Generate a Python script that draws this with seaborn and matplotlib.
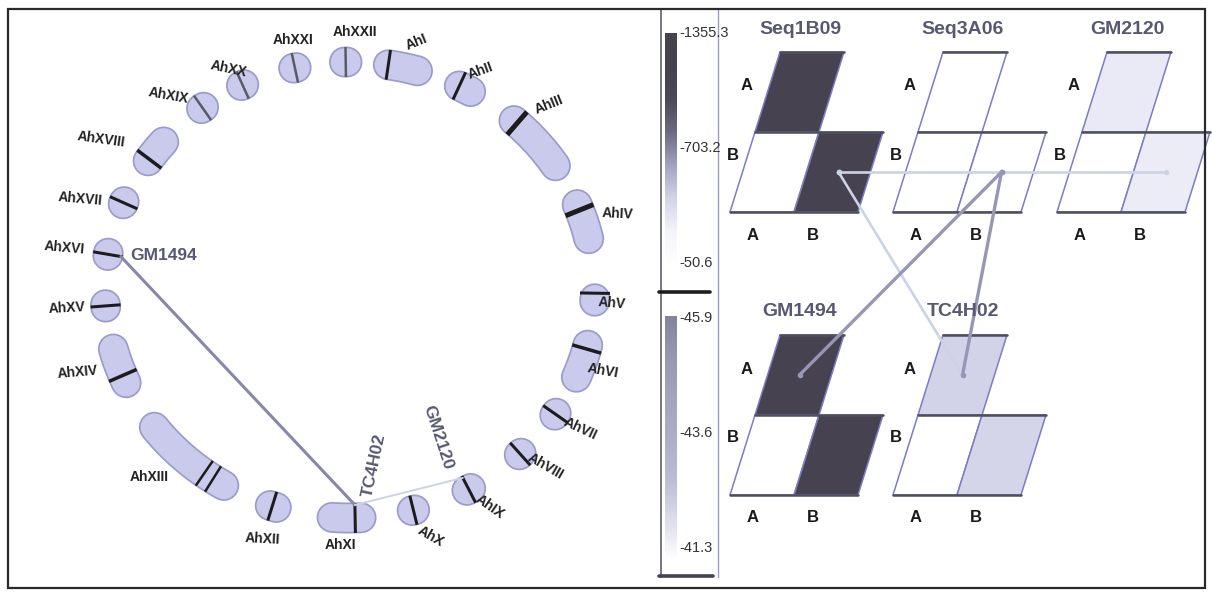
import numpy as np
import matplotlib
matplotlib.use("Agg")
import matplotlib.pyplot as plt
from matplotlib.patches import Polygon, Rectangle
from matplotlib.colors import Normalize
import seaborn as sns

sns.set_theme(style="white")
plt.rcParams["font.family"] = ["Liberation Sans", "DejaVu Sans"]

# ---- data: chromosomes on the circle (angles in degrees, clockwise from top)
chrom_names = ["AhI", "AhII", "AhIII", "AhIV", "AhV", "AhVI", "AhVII", "AhVIII",
               "AhIX", "AhX", "AhXI", "AhXII", "AhXIII", "AhXIV", "AhXV", "AhXVI",
               "AhXVII", "AhXVIII", "AhXIX", "AhXX", "AhXXI", "AhXXII"]
chrom_start = [9, 26.5, 42, 68, 92.2, 104, 122.7, 135.7, 150.5, 164.7, 177.4, 197.5,
               211, 246, 265.7, 278.7, 292.2, 304.5, 322.7, 333.7, 346.7, 358.7]
chrom_end = [16, 29.5, 57, 77, 92.8, 112.5, 123.3, 136.3, 151.5, 165.3, 184.2, 199,
             233, 255, 266.3, 279.3, 292.8, 310.5, 323.3, 334.3, 347.3, 359.3]

# marker bands: chromosome index, angle
band_chrom = [0, 1, 2, 3, 4, 5, 6, 7, 8, 9, 10, 11, 12, 12, 13, 14, 15, 16, 17, 18, 19, 20, 21]
band_angle = [9, 26.5, 43, 69.5, 90.8, 105, 123, 136, 151, 165, 178.8, 198.5, 214, 216.5,
              248, 266, 279, 292.5, 305, 323, 334, 347, 359]

# named markers and the links between them
marker_names = ["GM1494", "TC4H02", "GM2120"]
marker_angle = [279, 178.8, 151]
links_left = [(0, 1), (1, 2)]

# ---- data: 2x2 lower-triangle matrices (values on the colour scale)
hm_names = ["Seq1B09", "Seq3A06", "GM2120", "GM1494", "TC4H02"]
hm_aa = [-1330.0, -50.6, -300.0, -1355.3, -430.0]
hm_ba = [-50.6, -50.6, -50.6, -50.6, -50.6]
hm_bb = [-1330.0, -50.6, -290.0, -1355.3, -420.0]
hm_rows = ["A", "B"]
hm_cols = ["A", "B"]
# links between matrices: (from, cell) -> (to, cell)
links_right = [(0, "BB", 2, "BB", "light"), (0, "BB", 4, "AA", "light"),
               (1, "BB", 3, "AA", "strong"), (1, "BB", 4, "AA", "strong")]

# colour scales
scale1_ticks = [-1355.3, -703.2, -50.6]
scale2_ticks = [-45.9, -43.6, -41.3]

# ---- layout
PT = 0.72  # points per pixel at dpi 100
CX, CY, RX, RY = 350, 290, 245, 228
CW = 29
label_angle = [14, 29, 45, 73, 93, 109, 123, 134, 149, 163, 182, 198, 225, 252,
               266, 279, 290, 303, 319, 333, 348, 1]
label_r = [1.12, 1.10, 1.15, 1.14, 1.07, 1.09, 1.12, 1.11, 1.11, 1.13, 1.12, 1.15,
           1.16, 1.17, 1.16, 1.18, 1.17, 1.21, 1.13, 1.09, 1.12, 1.13]
label_rot = [22, 20, 22, -3, -5, -10, -25, -30, -35, -30, 0, -3, 0, 5, 3, -5, -5,
             -8, -10, -12, 0, 0]
band_lw = [3, 3, 5, 5, 3, 3.5, 3, 3, 3, 3, 3, 3, 2.5, 2.5, 3.5, 3, 3, 3, 3.5, 2.5, 2.5, 2.5, 2.5]
band_col = ["#1c1c1c"] * 19 + ["#5a5a66"] * 4
hm_x0 = [730, 893, 1057, 730, 893]
hm_yb = [212, 212, 212, 495, 495]
W, H, S = 64, 80, 25

cmap1 = sns.blend_palette(["#46424f", "#46424f", "#4c4858", "#6c6a84", "#a4a2c2",
                           "#d4d4ea", "#f4f4fb", "#ffffff"], as_cmap=True)
cmap2 = sns.blend_palette(["#84849a", "#9898b2", "#a4a4c0", "#aeaeca", "#bcbcd4",
                           "#dcdcec", "#ffffff"], as_cmap=True)
norm1 = Normalize(vmin=scale1_ticks[0], vmax=scale1_ticks[-1])


def ell(theta, k=1.0):
    t = np.radians(theta)
    return CX + k * RX * np.sin(t), CY - k * RY * np.cos(t)


def normal(theta):
    t = np.radians(theta)
    n = np.array([RY * np.sin(t), -RX * np.cos(t)])
    return n / np.linalg.norm(n)


fig = plt.figure(figsize=(12.12, 5.94), dpi=100)
ax = fig.add_axes([0, 0, 1, 1])

# chromosomes
for i, name in enumerate(chrom_names):
    th = np.linspace(chrom_start[i], chrom_end[i], 40)
    xs, ys = ell(th)
    ax.plot(xs, ys, color="#9c9ccc", lw=(CW + 2) * PT, solid_capstyle="round", zorder=2)
    ax.plot(xs, ys, color="#cacaec", lw=(CW - 1.5) * PT, solid_capstyle="round", zorder=3)
    lx, ly = ell(label_angle[i], label_r[i])
    ax.text(lx, ly, name, ha="center", va="center", fontsize=10, fontweight="bold",
            color="#222222", rotation=label_rot[i], zorder=6)

# bands
for j, ci in enumerate(band_chrom):
    px, py = ell(band_angle[j])
    n = normal(band_angle[j])
    half = CW / 2 + 0.5
    ax.plot([px - half * n[0], px + half * n[0]], [py - half * n[1], py + half * n[1]],
            color=band_col[j], lw=band_lw[j] * PT, solid_capstyle="butt", zorder=4)

# links between named markers
inner = []
for a in marker_angle:
    px, py = ell(a)
    n = normal(a)
    inner.append((px - 13 * n[0], py - 13 * n[1]))
for (a, b), col, lw in zip(links_left, ["#8886ac", "#cdd3e4"], [2.2, 1.4]):
    ax.plot([inner[a][0], inner[b][0]], [inner[a][1], inner[b][1]], color=col, lw=lw, zorder=5)

ax.text(inner[0][0] + 43, inner[0][1] - 1, marker_names[0], ha="center", va="center",
        fontsize=12.5, fontweight="bold", color="#585874", zorder=6)
ax.text(inner[1][0] + 19, inner[1][1] - 40, marker_names[1], ha="center", va="center",
        fontsize=12.5, fontweight="bold", color="#585874", rotation=78, zorder=6)
ax.text(inner[2][0] - 25, inner[2][1] - 40, marker_names[2], ha="center", va="center",
        fontsize=12.5, fontweight="bold", color="#585874", rotation=-72, zorder=6)

# colour bars
grad = np.linspace(0, 1, 256)[:, None]
ax.imshow(grad, extent=(665, 677, 265, 33), cmap=cmap1, aspect="auto", zorder=2)
ax.imshow(grad, extent=(665, 677, 560, 316), cmap=cmap2, aspect="auto", zorder=2)
for ticks, y0, y1 in [(scale1_ticks, 33, 263), (scale2_ticks, 318, 548)]:
    for k, v in enumerate(ticks):
        y = y0 + k * (y1 - y0) / (len(ticks) - 1)
        ax.text(679, y, "%.1f" % v, ha="left", va="center", fontsize=10.5,
                color="#333333", zorder=6)
ax.plot([661, 661], [10, 577], color="#6a6a7a", lw=1.3, zorder=5)
ax.plot([718, 718], [10, 577], color="#9a9acc", lw=1.0, zorder=5)
ax.plot([659, 710], [292, 292], color="#1e1e1e", lw=2.6, zorder=5)
ax.plot([659, 713], [576, 576], color="#444450", lw=2.6, zorder=5)


# matrices
def corners(x0, yb, r, c):
    return [(x0 + c * W + r * S, yb - r * H), (x0 + (c + 1) * W + r * S, yb - r * H),
            (x0 + (c + 1) * W + (r + 1) * S, yb - (r + 1) * H),
            (x0 + c * W + (r + 1) * S, yb - (r + 1) * H)]


def centre(x0, yb, r, c):
    return x0 + (c + 0.5) * W + (r + 0.5) * S, yb - (r + 0.5) * H


cell_rc = {"BA": (0, 0), "BB": (0, 1), "AA": (1, 0)}
for i, name in enumerate(hm_names):
    x0, yb = hm_x0[i], hm_yb[i]
    vals = {"AA": hm_aa[i], "BA": hm_ba[i], "BB": hm_bb[i]}
    for key, (r, c) in cell_rc.items():
        ax.add_patch(Polygon(corners(x0, yb, r, c), closed=True,
                             facecolor=cmap1(norm1(vals[key])), edgecolor="#7c7cc4",
                             lw=1.1, zorder=3))
    ax.plot([x0, x0 + 2 * W], [yb, yb], color="#4e4e5c", lw=1.8, zorder=4)
    ax.plot([x0 + S, x0 + S + 2 * W], [yb - H, yb - H], color="#4e4e5c", lw=1.8, zorder=4)
    ax.plot([x0 + 2 * S, x0 + 2 * S + W], [yb - 2 * H, yb - 2 * H], color="#4e4e5c",
            lw=1.8, zorder=4)
    ax.text(x0 + 70, yb - 2 * H - 23, name, ha="center", va="center", fontsize=14,
            fontweight="bold", color="#585872", zorder=6)
    ax.text(x0 + 17, yb - 126, hm_rows[0], ha="center", va="center", fontsize=12,
            fontweight="bold", color="#1a1a1a", zorder=6)
    ax.text(x0 + 3, yb - 57, hm_rows[1], ha="center", va="center", fontsize=12,
            fontweight="bold", color="#1a1a1a", zorder=6)
    ax.text(x0 + 23, yb + 23, hm_cols[0], ha="center", va="center", fontsize=12,
            fontweight="bold", color="#1a1a1a", zorder=6)
    ax.text(x0 + 83, yb + 23, hm_cols[1], ha="center", va="center", fontsize=12,
            fontweight="bold", color="#1a1a1a", zorder=6)

for a, ca, b, cb, kind in links_right:
    pa = centre(hm_x0[a], hm_yb[a], *cell_rc[ca])
    pb = centre(hm_x0[b], hm_yb[b], *cell_rc[cb])
    if kind == "strong":
        ax.plot([pa[0], pb[0]], [pa[1], pb[1]], color="#9896b6", lw=2.4,
                marker="o", ms=3, zorder=5)
    else:
        ax.plot([pa[0], pb[0]], [pa[1], pb[1]], color="#ccd3e6", lw=1.9,
                marker="o", ms=3, zorder=5)

# outer frame
ax.add_patch(Rectangle((8, 9), 1197, 579, fill=False, edgecolor="#2a2a2a", lw=1.6, zorder=7))

ax.set_xlim(0, 1212)
ax.set_ylim(594, 0)
ax.axis("off")
fig.savefig("out.png", dpi=100, facecolor="white")
